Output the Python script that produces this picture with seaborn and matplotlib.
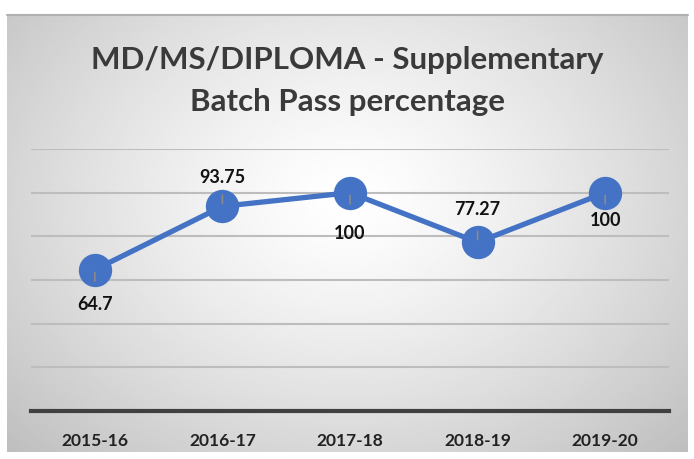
import numpy as np
import pandas as pd
import matplotlib
matplotlib.use("Agg")
import matplotlib.pyplot as plt
import seaborn as sns

years = ["2015-16", "2016-17", "2017-18", "2018-19", "2019-20"]
pass_pct = [64.7, 93.75, 100, 77.27, 100]
label_text = ["64.7", "93.75", "100", "77.27", "100"]
# label placement (style): pixel offsets from marker
label_dy = [-35, 29, -41, 33, -28]

sns.set_theme(style="white")
plt.rcParams['font.family'] = ['Lato', 'DejaVu Sans']

W, H = 694, 459
fig = plt.figure(figsize=(W / 100, H / 100), dpi=100)
fig.patch.set_facecolor("white")

# gradient background panel
bx0, by0, bx1, by1 = 7, 15, 688, 452
bg = fig.add_axes([bx0 / W, 1 - by1 / H, (bx1 - bx0) / W, (by1 - by0) / H], zorder=0)
yy, xx = np.mgrid[0:1:300j, 0:1:450j]
r = np.sqrt(((xx - 0.5) / 0.62) ** 2 + ((yy - 0.42) / 0.75) ** 2)
val = np.clip(1.0 - 0.22 * r ** 1.3, 0, 1)
bg.imshow(val, cmap="gray", vmin=0, vmax=1, aspect="auto", extent=[0, 1, 0, 1], interpolation="bilinear")
bg.set_axis_off()
fig.add_artist(plt.Line2D([bx0 / W, bx1 / W], [1 - by0 / H, 1 - by0 / H], color="#b0b0b0", lw=1.5))

# main axes
px0, px1, py0, py1 = 31, 669, 149, 411
ax = fig.add_axes([px0 / W, 1 - py1 / H, (px1 - px0) / W, (py1 - py0) / H], zorder=1)
ax.patch.set_alpha(0)

df = pd.DataFrame({"year": years, "pct": pass_pct})
df["x"] = np.arange(len(years))
sns.lineplot(data=df, x="x", y="pct", ax=ax, color="#4472C4", lw=3.8,
             marker="o", markersize=24, markeredgewidth=0, zorder=3)

ax.set_xlim(-0.5, len(years) - 0.5)
ax.set_ylim(0, 120)
ax.set_yticks(np.arange(0, 121, 20))
ax.yaxis.grid(True, color="#bdbdbd", lw=1.5)
ax.set_axisbelow(True)
ax.tick_params(axis="y", left=False, labelleft=False)
ax.set_xticks(df["x"])
ax.set_xticklabels(years, fontsize=12.5, fontweight="bold", color="#222222")
ax.tick_params(axis="x", bottom=False, pad=10)
for s in ["top", "right", "left"]:
    ax.spines[s].set_visible(False)
ax.spines["bottom"].set_color("#404040")
ax.spines["bottom"].set_linewidth(3)
ax.set_xlabel("")
ax.set_ylabel("")

for xi, yv, t, dy in zip(df["x"], pass_pct, label_text, label_dy):
    ax.annotate(t, (xi, yv), xytext=(0, dy * 0.72), textcoords="offset points",
                ha="center", va="center", fontsize=13, fontweight="bold", color="#111111", zorder=5)
    ax.annotate("", (xi, yv), xytext=(0, np.sign(dy) * 14 * 0.72), textcoords="offset points",
                arrowprops=dict(arrowstyle="-", color="#8a8a8a", lw=1.2), zorder=4)

fig.text(0.5, 1 - 60 / H, "MD/MS/DIPLOMA - Supplementary", ha="center", va="center",
         fontsize=22.5, fontweight="bold", color="#3a3a3a")
fig.text(0.5, 1 - 102 / H, "Batch Pass percentage", ha="center", va="center",
         fontsize=22.5, fontweight="bold", color="#3a3a3a")

fig.savefig("out.png", dpi=100)
